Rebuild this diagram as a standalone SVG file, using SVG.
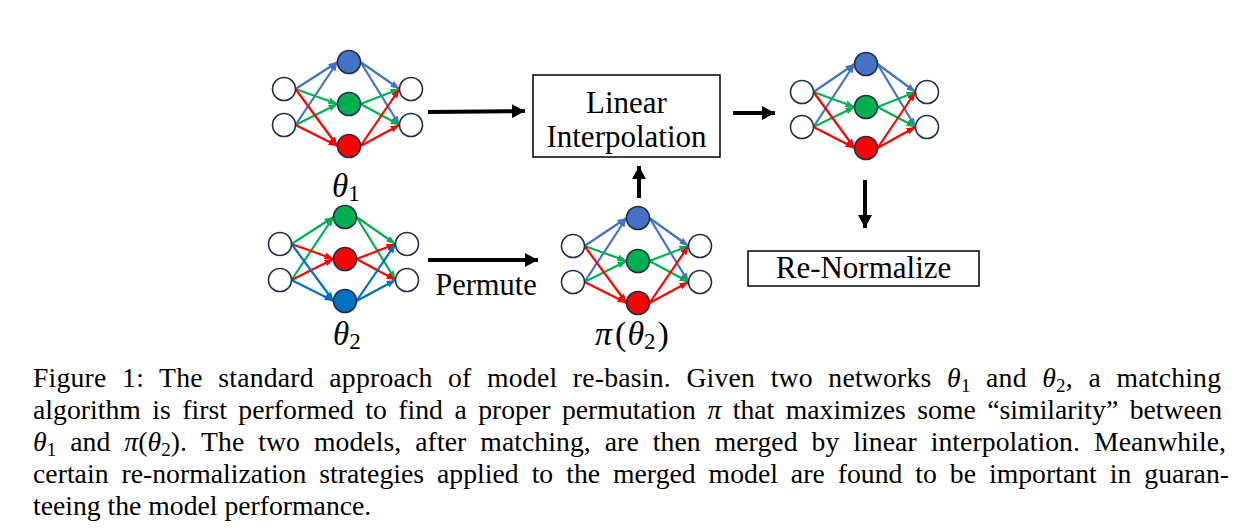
<svg xmlns="http://www.w3.org/2000/svg" width="1256" height="532" viewBox="0 0 1256 532">
<style>
.e{fill:none;stroke-width:2.2}
.b{stroke:#4472C4}.g{stroke:#00B050}.r{stroke:#FF0000}.d{stroke:#0070C0}
.n{stroke:#1F2E4D;stroke-width:1.6}
.w{fill:#ffffff}
.fb{fill:#4472C4}.fg{fill:#00B050}.fr{fill:#FF0000}.fd{fill:#0070C0}
.ar{stroke:#000;stroke-width:4;fill:none}
.box{fill:#fff;stroke:#000;stroke-width:1.5}
.t{font-family:"Liberation Serif","Times New Roman",serif;fill:#000}
.m{font-family:"Liberation Serif","Times New Roman",serif;font-style:italic;fill:#000}
.cap{font-family:"Liberation Serif","Times New Roman",serif;font-size:27.7px;fill:#000}
</style>
<defs>
<marker id="mb" markerUnits="userSpaceOnUse" markerWidth="9" markerHeight="7" refX="9" refY="3.5" orient="auto"><path d="M0,0 L9,3.5 L0,7 z" fill="#4472C4"/></marker>
<marker id="mg" markerUnits="userSpaceOnUse" markerWidth="9" markerHeight="7" refX="9" refY="3.5" orient="auto"><path d="M0,0 L9,3.5 L0,7 z" fill="#00B050"/></marker>
<marker id="mr" markerUnits="userSpaceOnUse" markerWidth="9" markerHeight="7" refX="9" refY="3.5" orient="auto"><path d="M0,0 L9,3.5 L0,7 z" fill="#FF0000"/></marker>
<marker id="md" markerUnits="userSpaceOnUse" markerWidth="9" markerHeight="7" refX="9" refY="3.5" orient="auto"><path d="M0,0 L9,3.5 L0,7 z" fill="#0070C0"/></marker>
<marker id="mk" markerUnits="userSpaceOnUse" markerWidth="13" markerHeight="14" refX="13" refY="7" orient="auto"><path d="M0,0 L13,7 L0,14 z" fill="#000"/></marker>
</defs>

<!-- Network theta1 -->
<g id="net1" transform="translate(349,62)">
<g class="e b" marker-end="url(#mb)">
<path d="M-53.5,27 L-11.5,0"/><path d="M-53.5,63 L-11.5,0"/><path d="M11.5,0 L50.5,27"/><path d="M11.5,0 L50.5,63"/>
</g>
<g class="e g" marker-end="url(#mg)">
<path d="M-53.5,27 L-11.5,42"/><path d="M-53.5,63 L-11.5,42"/><path d="M11.5,42 L50.5,27"/><path d="M11.5,42 L50.5,63"/>
</g>
<g class="e r" marker-end="url(#mr)">
<path d="M-53.5,27 L-11.5,84"/><path d="M-53.5,63 L-11.5,84"/><path d="M11.5,84 L50.5,27"/><path d="M11.5,84 L50.5,63"/>
</g>
<circle class="n w" cx="-65" cy="27" r="11.5"/><circle class="n w" cx="-65" cy="63" r="11.5"/>
<circle class="n fb" cx="0" cy="0" r="11.5"/><circle class="n fg" cx="0" cy="42" r="11.5"/><circle class="n fr" cx="0" cy="84" r="11.5"/>
<circle class="n w" cx="62" cy="27" r="11.5"/><circle class="n w" cx="62" cy="63" r="11.5"/>
</g>
<g id="label-theta1"><text class="m" x="332" y="197" font-size="33">θ<tspan class="t" font-style="normal" font-size="23" dy="4">1</tspan></text></g>

<!-- Network theta2 -->
<g id="net2" transform="translate(345,217)">
<g class="e g" marker-end="url(#mg)">
<path d="M-53.5,27 L-11.5,0"/><path d="M-53.5,63 L-11.5,0"/><path d="M11.5,0 L50.5,27"/><path d="M11.5,0 L50.5,63"/>
</g>
<g class="e r" marker-end="url(#mr)">
<path d="M-53.5,27 L-11.5,42"/><path d="M-53.5,63 L-11.5,42"/><path d="M11.5,42 L50.5,27"/><path d="M11.5,42 L50.5,63"/>
</g>
<g class="e d" marker-end="url(#md)">
<path d="M-53.5,27 L-11.5,84"/><path d="M-53.5,63 L-11.5,84"/><path d="M11.5,84 L50.5,27"/><path d="M11.5,84 L50.5,63"/>
</g>
<circle class="n w" cx="-65" cy="27" r="11.5"/><circle class="n w" cx="-65" cy="63" r="11.5"/>
<circle class="n fg" cx="0" cy="0" r="11.5"/><circle class="n fr" cx="0" cy="42" r="11.5"/><circle class="n fd" cx="0" cy="84" r="11.5"/>
<circle class="n w" cx="62" cy="27" r="11.5"/><circle class="n w" cx="62" cy="63" r="11.5"/>
</g>
<g id="label-theta2"><text class="m" x="333" y="345" font-size="33">θ<tspan class="t" font-style="normal" font-size="23" dy="4">2</tspan></text></g>

<!-- Network pi(theta2) -->
<g id="net3" transform="translate(638,218)">
<g class="e b" marker-end="url(#mb)">
<path d="M-53.5,28 L-11.5,0"/><path d="M-53.5,64 L-11.5,0"/><path d="M11.5,0 L50.5,28"/><path d="M11.5,0 L50.5,64"/>
</g>
<g class="e g" marker-end="url(#mg)">
<path d="M-53.5,28 L-11.5,43"/><path d="M-53.5,64 L-11.5,43"/><path d="M11.5,43 L50.5,28"/><path d="M11.5,43 L50.5,64"/>
</g>
<g class="e r" marker-end="url(#mr)">
<path d="M-53.5,28 L-11.5,85"/><path d="M-53.5,64 L-11.5,85"/><path d="M11.5,85 L50.5,28"/><path d="M11.5,85 L50.5,64"/>
</g>
<circle class="n w" cx="-65" cy="28" r="11.5"/><circle class="n w" cx="-65" cy="64" r="11.5"/>
<circle class="n fb" cx="0" cy="0" r="11.5"/><circle class="n fg" cx="0" cy="43" r="11.5"/><circle class="n fr" cx="0" cy="85" r="11.5"/>
<circle class="n w" cx="62" cy="28" r="11.5"/><circle class="n w" cx="62" cy="64" r="11.5"/>
</g>
<g id="label-pitheta2"><text class="m" x="595" y="345" font-size="34">π<tspan class="t" font-style="normal" dx="3">(</tspan><tspan dx="1">θ</tspan><tspan class="t" font-style="normal" font-size="23" dy="4">2</tspan><tspan class="t" font-style="normal" dy="-4" dx="2">)</tspan></text></g>

<!-- Network merged -->
<g id="net4" transform="translate(866,64)">
<g class="e b" marker-end="url(#mb)">
<path d="M-52.5,28 L-11.5,0"/><path d="M-52.5,63 L-11.5,0"/><path d="M11.5,0 L49.5,28"/><path d="M11.5,0 L49.5,63"/>
</g>
<g class="e g" marker-end="url(#mg)">
<path d="M-52.5,28 L-11.5,43"/><path d="M-52.5,63 L-11.5,43"/><path d="M11.5,43 L49.5,28"/><path d="M11.5,43 L49.5,63"/>
</g>
<g class="e r" marker-end="url(#mr)">
<path d="M-52.5,28 L-11.5,84"/><path d="M-52.5,63 L-11.5,84"/><path d="M11.5,84 L49.5,28"/><path d="M11.5,84 L49.5,63"/>
</g>
<circle class="n w" cx="-64" cy="28" r="11.5"/><circle class="n w" cx="-64" cy="63" r="11.5"/>
<circle class="n fb" cx="0" cy="0" r="11.5"/><circle class="n fg" cx="0" cy="43" r="11.5"/><circle class="n fr" cx="0" cy="84" r="11.5"/>
<circle class="n w" cx="61" cy="28" r="11.5"/><circle class="n w" cx="61" cy="63" r="11.5"/>
</g>

<!-- Boxes -->
<g id="linear-interpolation">
<rect class="box" x="533" y="75" width="187" height="82"/>
<text class="t" x="626.5" y="113" font-size="31" text-anchor="middle">Linear</text>
<text class="t" x="626.5" y="147" font-size="31" text-anchor="middle">Interpolation</text>
</g>
<g id="re-normalize">
<rect class="box" x="748" y="251" width="231" height="35"/>
<text class="t" x="863.5" y="278" font-size="31" text-anchor="middle">Re-Normalize</text>
</g>

<!-- Connectors -->
<g id="connectors" marker-end="url(#mk)">
<path class="ar" d="M428,112 L525,111"/>
<path class="ar" d="M639,198 L639,166"/>
<path class="ar" d="M733,113 L775,113"/>
<path class="ar" d="M865,180 L865,228"/>
<path class="ar" d="M428,260 L538,260"/>
</g>
<g id="permute-label"><text class="t" x="486" y="295" font-size="30.5" text-anchor="middle">Permute</text></g>

<!-- Caption -->
<g id="caption">
<text class="cap" x="33" y="387" word-spacing="8.4" textLength="1188" lengthAdjust="spacing">Figure 1: The standard approach of model re-basin. Given two networks <tspan font-style="italic">θ</tspan><tspan font-size="19" dy="5">1</tspan><tspan dy="-5"> and </tspan><tspan font-style="italic">θ</tspan><tspan font-size="19" dy="5">2</tspan><tspan dy="-5">, a matching</tspan></text>
<text class="cap" x="33" y="419" word-spacing="4.5" textLength="1189" lengthAdjust="spacing">algorithm is first performed to find a proper permutation <tspan font-style="italic">π</tspan> that maximizes some “similarity” between</text>
<text class="cap" x="33" y="451" word-spacing="7" textLength="1193" lengthAdjust="spacing"><tspan font-style="italic">θ</tspan><tspan font-size="19" dy="5">1</tspan><tspan dy="-5"> and </tspan><tspan font-style="italic">π</tspan>(<tspan font-style="italic">θ</tspan><tspan font-size="19" dy="5">2</tspan><tspan dy="-5">). The two models, after matching, are then merged by linear interpolation. Meanwhile,</tspan></text>
<text class="cap" x="33" y="483" word-spacing="6" textLength="1196" lengthAdjust="spacing">certain re-normalization strategies applied to the merged model are found to be important in guaran-</text>
<text class="cap" x="33" y="515">teeing the model performance.</text>
</g>
</svg>
